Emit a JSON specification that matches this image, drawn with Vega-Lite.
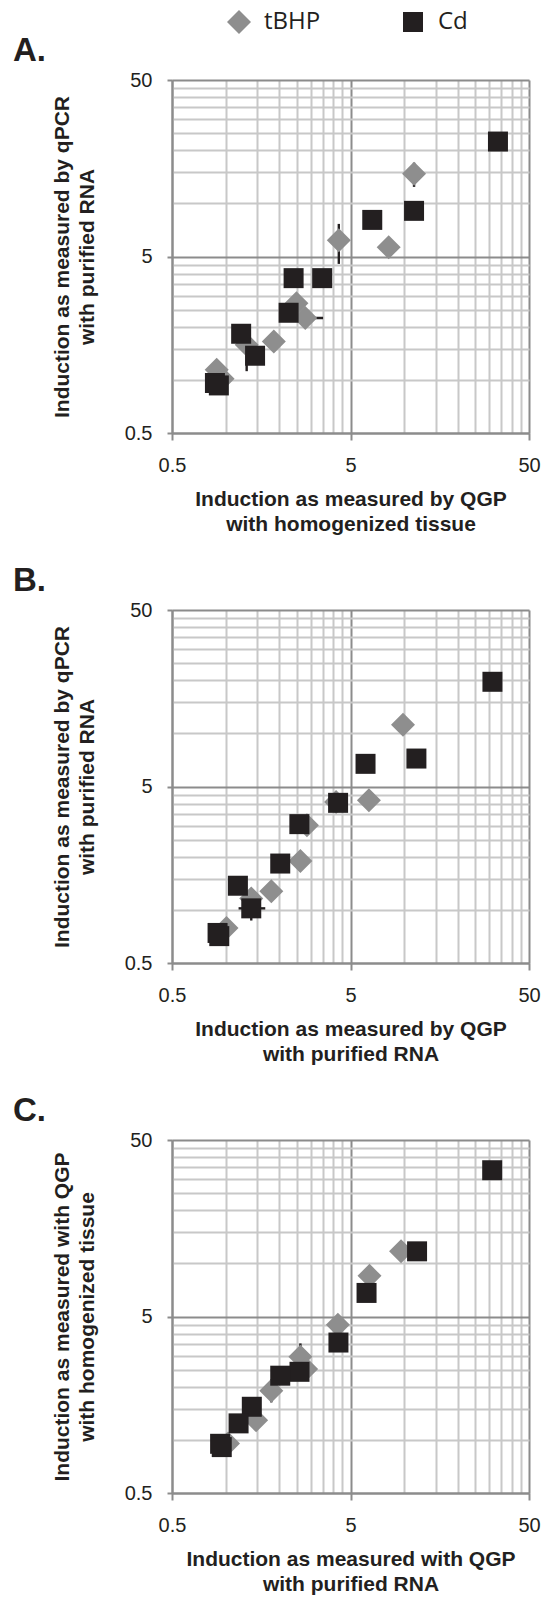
{
  "$schema": "https://vega.github.io/schema/vega-lite/v6.json",
  "background": "white",
  "padding": {"left": 13, "top": 10, "right": 2, "bottom": 2},
  "datasets": {
    "points": [
      {"panel": "A", "series": "tBHP", "x": 11.35, "y": 14.7},
      {"panel": "A", "series": "tBHP", "x": 8.18, "y": 5.65},
      {"panel": "A", "series": "tBHP", "x": 4.30, "y": 6.19},
      {"panel": "A", "series": "tBHP", "x": 2.49, "y": 2.72},
      {"panel": "A", "series": "tBHP", "x": 2.79, "y": 2.24},
      {"panel": "A", "series": "tBHP", "x": 1.86, "y": 1.65},
      {"panel": "A", "series": "tBHP", "x": 1.31, "y": 1.58},
      {"panel": "A", "series": "tBHP", "x": 0.89, "y": 1.14},
      {"panel": "A", "series": "tBHP", "x": 0.96, "y": 1.015},
      {"panel": "A", "series": "Cd", "x": 33.5, "y": 22.4},
      {"panel": "A", "series": "Cd", "x": 11.35, "y": 9.07},
      {"panel": "A", "series": "Cd", "x": 6.62, "y": 8.06},
      {"panel": "A", "series": "Cd", "x": 3.47, "y": 3.77},
      {"panel": "A", "series": "Cd", "x": 2.40, "y": 3.77},
      {"panel": "A", "series": "Cd", "x": 2.25, "y": 2.40},
      {"panel": "A", "series": "Cd", "x": 1.22, "y": 1.825},
      {"panel": "A", "series": "Cd", "x": 1.46, "y": 1.37},
      {"panel": "A", "series": "Cd", "x": 0.87, "y": 0.96},
      {"panel": "A", "series": "Cd", "x": 0.915, "y": 0.93},
      {"panel": "B", "series": "tBHP", "x": 9.84, "y": 11.2},
      {"panel": "B", "series": "tBHP", "x": 6.34, "y": 4.18},
      {"panel": "B", "series": "tBHP", "x": 4.15, "y": 4.09},
      {"panel": "B", "series": "tBHP", "x": 2.85, "y": 3.02},
      {"panel": "B", "series": "tBHP", "x": 2.62, "y": 1.89},
      {"panel": "B", "series": "tBHP", "x": 1.80, "y": 1.275},
      {"panel": "B", "series": "tBHP", "x": 1.39, "y": 1.16},
      {"panel": "B", "series": "tBHP", "x": 1.01, "y": 0.79},
      {"panel": "B", "series": "Cd", "x": 31.2, "y": 19.6},
      {"panel": "B", "series": "Cd", "x": 11.7, "y": 7.2},
      {"panel": "B", "series": "Cd", "x": 6.07, "y": 6.72},
      {"panel": "B", "series": "Cd", "x": 4.26, "y": 4.04},
      {"panel": "B", "series": "Cd", "x": 2.585, "y": 3.06},
      {"panel": "B", "series": "Cd", "x": 2.02, "y": 1.83},
      {"panel": "B", "series": "Cd", "x": 1.17, "y": 1.37},
      {"panel": "B", "series": "Cd", "x": 1.39, "y": 1.02},
      {"panel": "B", "series": "Cd", "x": 0.90, "y": 0.74},
      {"panel": "B", "series": "Cd", "x": 0.92, "y": 0.71},
      {"panel": "C", "series": "tBHP", "x": 9.6, "y": 11.7},
      {"panel": "C", "series": "tBHP", "x": 6.39, "y": 8.5},
      {"panel": "C", "series": "tBHP", "x": 4.25, "y": 4.49},
      {"panel": "C", "series": "tBHP", "x": 2.62, "y": 2.96},
      {"panel": "C", "series": "tBHP", "x": 2.82, "y": 2.52},
      {"panel": "C", "series": "tBHP", "x": 1.80, "y": 1.90},
      {"panel": "C", "series": "tBHP", "x": 1.48, "y": 1.29},
      {"panel": "C", "series": "tBHP", "x": 1.03, "y": 0.955},
      {"panel": "C", "series": "Cd", "x": 31.1, "y": 33.7},
      {"panel": "C", "series": "Cd", "x": 11.8, "y": 11.7},
      {"panel": "C", "series": "Cd", "x": 6.15, "y": 6.8},
      {"panel": "C", "series": "Cd", "x": 4.28, "y": 3.56},
      {"panel": "C", "series": "Cd", "x": 2.59, "y": 2.43},
      {"panel": "C", "series": "Cd", "x": 2.02, "y": 2.31},
      {"panel": "C", "series": "Cd", "x": 1.40, "y": 1.54},
      {"panel": "C", "series": "Cd", "x": 1.18, "y": 1.24},
      {"panel": "C", "series": "Cd", "x": 0.93, "y": 0.95},
      {"panel": "C", "series": "Cd", "x": 0.95, "y": 0.91}
    ],
    "errs": [
      {"panel": "A", "x": 4.30, "xe": 4.30, "y": 4.54, "ye": 7.65},
      {"panel": "A", "x": 11.35, "xe": 11.35, "y": 12.4, "ye": 17},
      {"panel": "A", "x": 2.2, "xe": 3.51, "y": 2.24, "ye": 2.24},
      {"panel": "A", "x": 1.31, "xe": 1.31, "y": 1.12, "ye": 1.9},
      {"panel": "B", "x": 1.18, "xe": 1.665, "y": 1.02, "ye": 1.02},
      {"panel": "B", "x": 1.39, "xe": 1.39, "y": 0.87, "ye": 1.2},
      {"panel": "C", "x": 2.62, "xe": 2.62, "y": 2.5, "ye": 3.52},
      {"panel": "C", "x": 1.80, "xe": 1.80, "y": 1.63, "ye": 2.2}
    ]
  },
  "config": {
    "view": {"stroke": null},
    "concat": {"spacing": 31},
    "axis": {
      "labelFont": "Liberation Sans", "labelFontSize": 20, "labelColor": "#231f20",
      "titleFont": "Liberation Sans", "titleFontSize": 21, "titleFontWeight": "bold", "titleColor": "#231f20",
      "titleLineHeight": 25, "gridWidth": 2, "domainColor": "#8c8c8c", "domainWidth": 2,
      "tickColor": "#8c8c8c", "tickWidth": 2, "labelFlush": false, "labelOverlap": false, "labelBound": false
    },
    "axisX": {"tickSize": 7, "labelPadding": 15, "titlePadding": 13},
    "axisY": {"tickSize": 5, "labelPadding": 15, "titlePadding": 27},
    "title": {
      "font": "Liberation Sans", "fontSize": 33, "fontWeight": "bold", "color": "#231f20",
      "anchor": "start", "frame": "group", "dx": -159, "offset": 2
    },
    "legend": {
      "orient": "none", "legendX": 55, "legendY": -70, "direction": "horizontal",
      "labelFont": "Open Sans", "labelFontSize": 24, "labelColor": "#231f20",
      "labelOffset": 13, "columnPadding": 80, "symbolStrokeWidth": 0, "symbolOpacity": 1
    }
  },
  "vconcat": [
    {
      "title": "A.",
      "width": 357, "height": 353,
      "encoding": {
        "x": {"field": "x", "type": "quantitative",
          "scale": {"type": "log", "domain": [0.5, 50], "nice": false},
          "axis": {"title": ["Induction as measured by QGP", "with homogenized tissue"],
            "values": [0.5, 1, 1.5, 2, 2.5, 3, 3.5, 4, 4.5, 5, 10, 15, 20, 25, 30, 35, 40, 45, 50],
            "labelExpr": "(datum.value == 0.5 || datum.value == 5 || datum.value == 50) ? format(datum.value, '~g') : ''",
            "gridColor": {"condition": {"test": "datum.value == 0.5 || datum.value == 5 || datum.value == 50", "value": "#8c8c8c"}, "value": "#c8c8c8"},
            "tickOpacity": {"condition": {"test": "datum.value == 0.5 || datum.value == 5 || datum.value == 50", "value": 1}, "value": 0}}},
        "y": {"field": "y", "type": "quantitative",
          "scale": {"type": "log", "domain": [0.5, 50], "nice": false},
          "axis": {"title": ["Induction as measured by qPCR", "with purified RNA"],
            "values": [0.5, 1, 1.5, 2, 2.5, 3, 3.5, 4, 4.5, 5, 10, 15, 20, 25, 30, 35, 40, 45, 50],
            "labelExpr": "(datum.value == 0.5 || datum.value == 5 || datum.value == 50) ? format(datum.value, '~g') : ''",
            "gridColor": {"condition": {"test": "datum.value == 0.5 || datum.value == 5 || datum.value == 50", "value": "#8c8c8c"}, "value": "#c8c8c8"},
            "tickOpacity": {"condition": {"test": "datum.value == 0.5 || datum.value == 5 || datum.value == 50", "value": 1}, "value": 0}}}
      },
      "layer": [
        {
          "data": {"name": "errs"},
          "transform": [{"filter": "datum.panel === 'A'"}],
          "mark": {"type": "rule", "color": "#231f20", "strokeWidth": 2.4},
          "encoding": {"x2": {"field": "xe"}, "y2": {"field": "ye"}}
        },
        {
          "data": {"name": "points"},
          "transform": [{"filter": "datum.panel === 'A'"}],
          "mark": {"type": "point", "filled": true, "opacity": 1, "strokeWidth": 0},
          "encoding": {
            "shape": {"field": "series", "type": "nominal", "title": null, "scale": {"domain": ["tBHP", "Cd"], "range": ["diamond", "square"]}},
            "color": {"field": "series", "type": "nominal", "title": null, "scale": {"domain": ["tBHP", "Cd"], "range": ["#8e8e8e", "#231f20"]}},
            "size": {"field": "series", "type": "nominal", "title": null, "scale": {"domain": ["tBHP", "Cd"], "range": [576, 400]}}
          }
        }
      ]
    },
    {
      "title": "B.",
      "width": 357, "height": 353,
      "encoding": {
        "x": {"field": "x", "type": "quantitative",
          "scale": {"type": "log", "domain": [0.5, 50], "nice": false},
          "axis": {"title": ["Induction as measured by QGP", "with purified RNA"],
            "values": [0.5, 1, 1.5, 2, 2.5, 3, 3.5, 4, 4.5, 5, 10, 15, 20, 25, 30, 35, 40, 45, 50],
            "labelExpr": "(datum.value == 0.5 || datum.value == 5 || datum.value == 50) ? format(datum.value, '~g') : ''",
            "gridColor": {"condition": {"test": "datum.value == 0.5 || datum.value == 5 || datum.value == 50", "value": "#8c8c8c"}, "value": "#c8c8c8"},
            "tickOpacity": {"condition": {"test": "datum.value == 0.5 || datum.value == 5 || datum.value == 50", "value": 1}, "value": 0}}},
        "y": {"field": "y", "type": "quantitative",
          "scale": {"type": "log", "domain": [0.5, 50], "nice": false},
          "axis": {"title": ["Induction as measured by qPCR", "with purified RNA"],
            "values": [0.5, 1, 1.5, 2, 2.5, 3, 3.5, 4, 4.5, 5, 10, 15, 20, 25, 30, 35, 40, 45, 50],
            "labelExpr": "(datum.value == 0.5 || datum.value == 5 || datum.value == 50) ? format(datum.value, '~g') : ''",
            "gridColor": {"condition": {"test": "datum.value == 0.5 || datum.value == 5 || datum.value == 50", "value": "#8c8c8c"}, "value": "#c8c8c8"},
            "tickOpacity": {"condition": {"test": "datum.value == 0.5 || datum.value == 5 || datum.value == 50", "value": 1}, "value": 0}}}
      },
      "layer": [
        {
          "data": {"name": "errs"},
          "transform": [{"filter": "datum.panel === 'B'"}],
          "mark": {"type": "rule", "color": "#231f20", "strokeWidth": 2.4},
          "encoding": {"x2": {"field": "xe"}, "y2": {"field": "ye"}}
        },
        {
          "data": {"name": "points"},
          "transform": [{"filter": "datum.panel === 'B'"}],
          "mark": {"type": "point", "filled": true, "opacity": 1, "strokeWidth": 0},
          "encoding": {
            "shape": {"field": "series", "type": "nominal", "title": null, "scale": {"domain": ["tBHP", "Cd"], "range": ["diamond", "square"]}},
            "color": {"field": "series", "type": "nominal", "title": null, "scale": {"domain": ["tBHP", "Cd"], "range": ["#8e8e8e", "#231f20"]}},
            "size": {"field": "series", "type": "nominal", "title": null, "scale": {"domain": ["tBHP", "Cd"], "range": [576, 400]}}
          }
        }
      ]
    },
    {
      "title": "C.",
      "width": 357, "height": 353,
      "encoding": {
        "x": {"field": "x", "type": "quantitative",
          "scale": {"type": "log", "domain": [0.5, 50], "nice": false},
          "axis": {"title": ["Induction as measured with QGP", "with purified RNA"],
            "values": [0.5, 1, 1.5, 2, 2.5, 3, 3.5, 4, 4.5, 5, 10, 15, 20, 25, 30, 35, 40, 45, 50],
            "labelExpr": "(datum.value == 0.5 || datum.value == 5 || datum.value == 50) ? format(datum.value, '~g') : ''",
            "gridColor": {"condition": {"test": "datum.value == 0.5 || datum.value == 5 || datum.value == 50", "value": "#8c8c8c"}, "value": "#c8c8c8"},
            "tickOpacity": {"condition": {"test": "datum.value == 0.5 || datum.value == 5 || datum.value == 50", "value": 1}, "value": 0}}},
        "y": {"field": "y", "type": "quantitative",
          "scale": {"type": "log", "domain": [0.5, 50], "nice": false},
          "axis": {"title": ["Induction as measured with QGP", "with homogenized tissue"],
            "values": [0.5, 1, 1.5, 2, 2.5, 3, 3.5, 4, 4.5, 5, 10, 15, 20, 25, 30, 35, 40, 45, 50],
            "labelExpr": "(datum.value == 0.5 || datum.value == 5 || datum.value == 50) ? format(datum.value, '~g') : ''",
            "gridColor": {"condition": {"test": "datum.value == 0.5 || datum.value == 5 || datum.value == 50", "value": "#8c8c8c"}, "value": "#c8c8c8"},
            "tickOpacity": {"condition": {"test": "datum.value == 0.5 || datum.value == 5 || datum.value == 50", "value": 1}, "value": 0}}}
      },
      "layer": [
        {
          "data": {"name": "errs"},
          "transform": [{"filter": "datum.panel === 'C'"}],
          "mark": {"type": "rule", "color": "#231f20", "strokeWidth": 2.4},
          "encoding": {"x2": {"field": "xe"}, "y2": {"field": "ye"}}
        },
        {
          "data": {"name": "points"},
          "transform": [{"filter": "datum.panel === 'C'"}],
          "mark": {"type": "point", "filled": true, "opacity": 1, "strokeWidth": 0},
          "encoding": {
            "shape": {"field": "series", "type": "nominal", "title": null, "scale": {"domain": ["tBHP", "Cd"], "range": ["diamond", "square"]}},
            "color": {"field": "series", "type": "nominal", "title": null, "scale": {"domain": ["tBHP", "Cd"], "range": ["#8e8e8e", "#231f20"]}},
            "size": {"field": "series", "type": "nominal", "title": null, "scale": {"domain": ["tBHP", "Cd"], "range": [576, 400]}}
          }
        }
      ]
    }
  ]
}
